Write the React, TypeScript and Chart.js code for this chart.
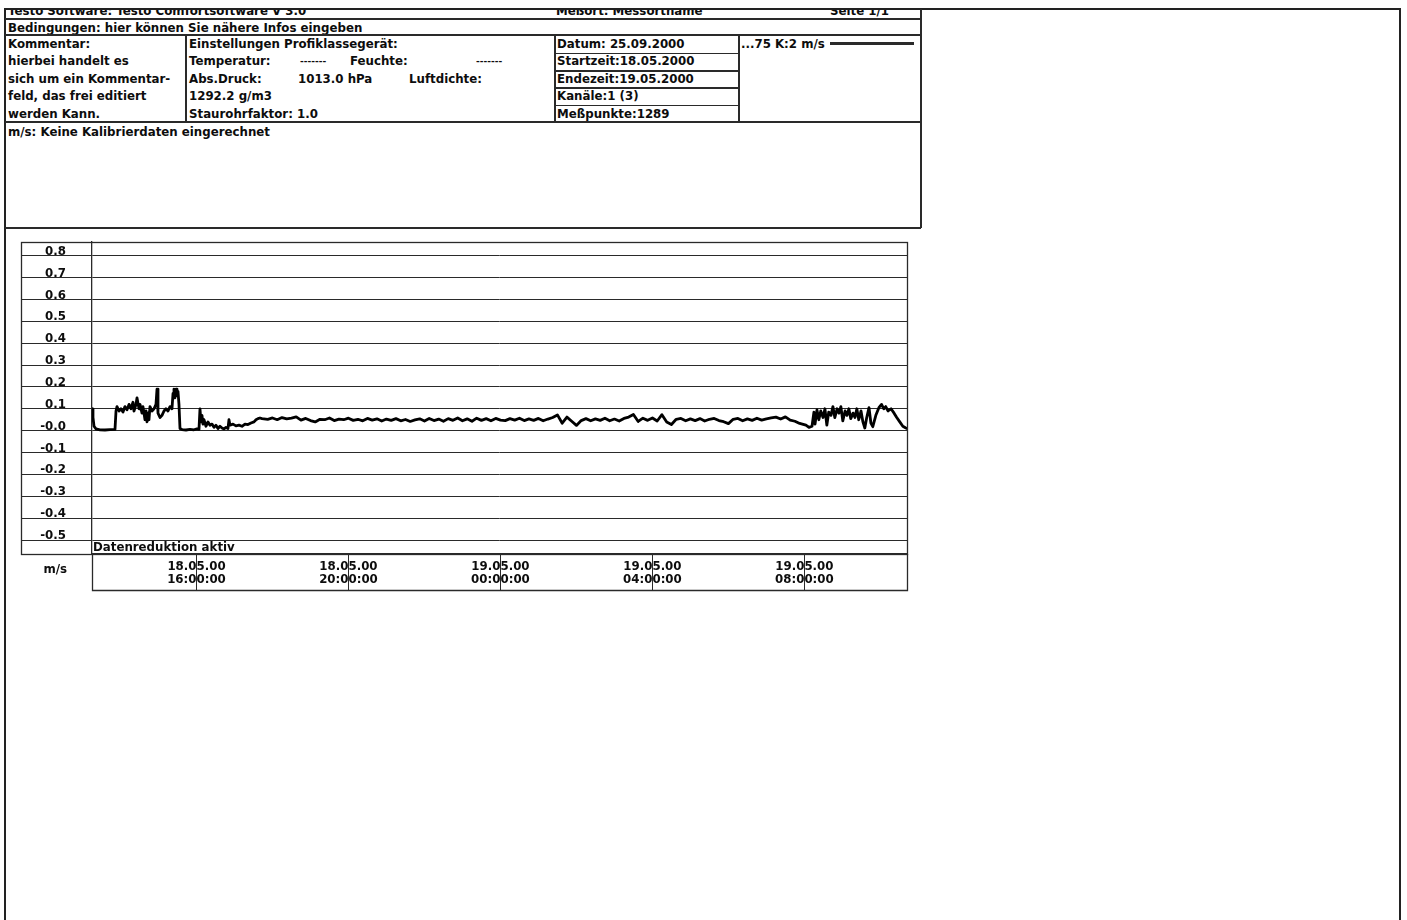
import React, { useEffect, useRef } from "react";
import { Chart, registerables } from "chart.js";

Chart.register(...registerables);

// Time in hours since 18.05.2000 00:00, velocity in m/s
const TIME_H = [
  // start / first plateau
  13.250, 13.276, 13.303, 13.355, 13.461, 13.592, 13.724, 13.855, 13.882, 13.908,
  13.961, 14.013, 14.066, 14.118, 14.171, 14.224, 14.276, 14.329, 14.355, 14.408,
  14.434, 14.487, 14.513, 14.566, 14.592, 14.645, 14.671, 14.697, 14.724, 14.750,
  14.776, 14.829, 14.882, 14.934, 14.961, 14.987, 15.039, 15.092, 15.145, 15.197,
  15.250, 15.303, 15.355, 15.382, 15.408, 15.434, 15.461, 15.487, 15.513, 15.539,
  15.566,
  // low phase
  15.618, 15.724, 15.829, 15.934, 16.013, 16.066, 16.092, 16.118, 16.145, 16.171,
  16.197, 16.250, 16.303, 16.355, 16.408, 16.461, 16.513, 16.566, 16.618, 16.671,
  16.724, 16.776, 16.829, 16.855, 16.882, 16.961, 17.039, 17.118, 17.197, 17.276,
  17.355, 17.434, 17.513, 17.566, 17.618, 17.671, 17.724,
  // steady phase
  17.875,
  18.000, 18.125, 18.250, 18.375, 18.500, 18.625, 18.750, 18.875,
  19.000, 19.125, 19.250, 19.375, 19.500, 19.625, 19.750, 19.875,
  20.000, 20.125, 20.250, 20.375, 20.500, 20.625, 20.750, 20.875,
  21.000, 21.125, 21.250, 21.375, 21.500, 21.625, 21.750, 21.875,
  22.000, 22.125, 22.250, 22.375, 22.500, 22.625, 22.750, 22.875,
  23.000, 23.125, 23.250, 23.375, 23.500, 23.625, 23.750, 23.875,
  24.000, 24.125, 24.250, 24.375, 24.500, 24.625, 24.750, 24.875,
  25.000, 25.125, 25.250, 25.375, 25.500, 25.625, 25.750, 25.875,
  26.000, 26.125, 26.250, 26.375, 26.500, 26.625, 26.750, 26.875,
  27.000, 27.125, 27.250, 27.375, 27.500, 27.625, 27.750, 27.875,
  28.000, 28.125, 28.250, 28.375, 28.500, 28.625, 28.750, 28.875,
  29.000, 29.125, 29.250, 29.375, 29.500, 29.625, 29.750, 29.875,
  30.000, 30.125, 30.250, 30.375, 30.500, 30.625, 30.750, 30.875,
  31.000, 31.125, 31.250, 31.375, 31.500, 31.625, 31.750, 31.875,
  // final fluctuating phase
  32.04, 32.12, 32.20, 32.25, 32.28, 32.33, 32.38, 32.43, 32.49, 32.54,
  32.59, 32.64, 32.70, 32.75, 32.80, 32.86, 32.91, 32.96, 33.01, 33.07,
  33.12, 33.17, 33.22, 33.28, 33.33, 33.38, 33.43, 33.49, 33.54, 33.59,
  33.64, 33.70, 33.75, 33.80, 33.88, 33.96, 34.03, 34.09, 34.14, 34.20,
  34.28, 34.36, 34.43, 34.51, 34.59, 34.67, 34.70,
];

const SPEED = [
  0.10, 0.06, 0.02, 0.008, 0.004, 0.003, 0.005, 0.006, 0.09, 0.11,
  0.09, 0.10, 0.085, 0.11, 0.095, 0.12, 0.10, 0.13, 0.09, 0.12,
  0.15, 0.10, 0.12, 0.08, 0.11, 0.05, 0.09, 0.04, 0.08, 0.05,
  0.11, 0.09, 0.10, 0.12, 0.19, 0.08, 0.06, 0.07, 0.09, 0.10,
  0.09, 0.11, 0.10, 0.17, 0.19, 0.15, 0.19, 0.16, 0.18, 0.12,
  0.01,
  0.005, 0.003, 0.006, 0.004, 0.008, 0.006, 0.10, 0.04, 0.07, 0.03,
  0.05, 0.02, 0.04, 0.025, 0.03, 0.015, 0.025, 0.01, 0.02, 0.012,
  0.008, 0.015, 0.01, 0.05, 0.025, 0.03, 0.022, 0.025, 0.02, 0.03,
  0.028, 0.035, 0.04, 0.05, 0.055, 0.058, 0.055,
  0.052,
  0.058, 0.050, 0.060, 0.054, 0.057, 0.063, 0.048, 0.056,
  0.046, 0.040, 0.052, 0.050, 0.058, 0.046, 0.053, 0.050,
  0.057, 0.047, 0.052, 0.045, 0.056, 0.048, 0.054, 0.044,
  0.053, 0.047, 0.055, 0.045, 0.051, 0.042, 0.049, 0.054,
  0.044, 0.056, 0.046, 0.053, 0.043, 0.055, 0.047, 0.058,
  0.045, 0.054, 0.043, 0.057, 0.047, 0.055, 0.045, 0.056,
  0.048, 0.046, 0.055, 0.048, 0.057, 0.046, 0.054, 0.047,
  0.056, 0.045, 0.053, 0.060, 0.072, 0.034, 0.062, 0.043,
  0.024, 0.046, 0.055, 0.045, 0.054, 0.047, 0.057, 0.045,
  0.053, 0.044, 0.056, 0.062, 0.074, 0.042, 0.057, 0.047,
  0.058, 0.044, 0.073, 0.040, 0.028, 0.052, 0.056, 0.045,
  0.054, 0.046, 0.055, 0.044, 0.052, 0.056, 0.046, 0.041,
  0.032, 0.052, 0.056, 0.045, 0.054, 0.047, 0.057, 0.048,
  0.054, 0.058, 0.062, 0.053, 0.063, 0.048, 0.043, 0.033,
  0.025, 0.015, 0.02, 0.085, 0.03, 0.095, 0.05, 0.09, 0.06, 0.10,
  0.025, 0.085, 0.07, 0.11, 0.06, 0.10, 0.08, 0.11, 0.045, 0.09,
  0.07, 0.10, 0.055, 0.08, 0.06, 0.10, 0.05, 0.09, 0.04, 0.012,
  0.06, 0.105, 0.035, 0.018, 0.07, 0.105, 0.12, 0.10, 0.11, 0.09,
  0.10, 0.08, 0.06, 0.04, 0.02, 0.012, 0.01,
];

const Y_TICKS = [-0.5, -0.4, -0.3, -0.2, -0.1, 0, 0.1, 0.2, 0.3, 0.4, 0.5, 0.6, 0.7, 0.8];
const Y_TICK_LABELS = ["-0.5", "-0.4", "-0.3", "-0.2", "-0.1", "-0.0", "0.1", "0.2", "0.3", "0.4", "0.5", "0.6", "0.7", "0.8"];
const X_TICKS = [16, 20, 24, 28, 32];
const X_TICK_LABELS = [
  ["18.05.00", "16:00:00"],
  ["18.05.00", "20:00:00"],
  ["19.05.00", "00:00:00"],
  ["19.05.00", "04:00:00"],
  ["19.05.00", "08:00:00"],
];
const X_MIN = 13.25;
const X_MAX = 34.7;
const Y_MIN = -0.564;
const Y_MAX = 0.8626;

const FONT = '"DejaVu Sans", sans-serif';
const FS = 11.8;
const INK = "#0d0d0d";
const LINE = "#2a2a2a";

const framePlugin = {
  id: "frame",
  afterDraw(chart: any) {
    const { ctx, chartArea: a } = chart;
    const ys = chart.scales.y;
    const xs = chart.scales.x;
    ctx.save();
    ctx.strokeStyle = LINE;
    ctx.lineWidth = 1.3;
    ctx.strokeRect(ys.left + 0.5, a.top + 0.5, a.right - ys.left, a.bottom - a.top);
    ctx.beginPath();
    ctx.moveTo(a.left + 0.5, a.bottom);
    ctx.lineTo(a.left + 0.5, xs.bottom + 0.5);
    ctx.lineTo(a.right + 0.5, xs.bottom + 0.5);
    ctx.lineTo(a.right + 0.5, a.bottom);
    ctx.stroke();
    ctx.fillStyle = INK;
    ctx.font = `bold ${FS}px ${FONT}`;
    ctx.textBaseline = "alphabetic";
    ctx.textAlign = "left";
    ctx.fillText("Datenreduktion aktiv", a.left + 1, a.bottom - 3.5);
    ctx.textAlign = "right";
    ctx.fillText("m/s", ys.right - 25, a.bottom + 19);
    ctx.restore();
  },
};

function ChartBox() {
  const ref = useRef<HTMLCanvasElement | null>(null);
  useEffect(() => {
    if (!ref.current) return;
    const points = TIME_H.map((t, i) => ({ x: t, y: SPEED[i] }));
    const tickFont = { family: FONT, size: FS, weight: "bold" as const, lineHeight: 1.12 };
    const chart = new Chart(ref.current, {
      type: "line",
      data: {
        datasets: [
          {
            label: "m/s",
            data: points,
            borderColor: "#000",
            borderWidth: 2.8,
            borderJoinStyle: "round",
            borderCapStyle: "round",
            pointRadius: 0,
            tension: 0,
            fill: false,
          },
        ],
      },
      options: {
        animation: false,
        responsive: false,
        maintainAspectRatio: false,
        layout: { padding: { left: 21, top: 12, right: 23, bottom: 10 } },
        plugins: { legend: { display: false }, tooltip: { enabled: false }, title: { display: false } },
        scales: {
          x: {
            type: "linear",
            min: X_MIN,
            max: X_MAX,
            afterBuildTicks: (s: any) => {
              s.ticks = X_TICKS.map((v) => ({ value: v }));
            },
            afterFit: (s: any) => {
              s.height = 36;
            },
            grid: { display: true, drawOnChartArea: false, drawTicks: true, tickLength: 36, color: LINE, lineWidth: 1 },
            border: { display: true, color: LINE, width: 1.3 },
            ticks: {
              autoSkip: false,
              maxRotation: 0,
              minRotation: 0,
              padding: -30,
              color: INK,
              font: tickFont,
              callback: (_v: any, i: number) => X_TICK_LABELS[i],
            },
          },
          y: {
            type: "linear",
            min: Y_MIN,
            max: Y_MAX,
            afterBuildTicks: (s: any) => {
              s.ticks = Y_TICKS.map((v) => ({ value: v }));
            },
            afterFit: (s: any) => {
              s.width = 71;
            },
            grid: { display: true, drawOnChartArea: true, drawTicks: true, tickLength: 71, color: LINE, lineWidth: 1 },
            border: { display: true, color: LINE, width: 1.3 },
            ticks: {
              autoSkip: false,
              padding: -45,
              labelOffset: -4,
              color: INK,
              font: tickFont,
              callback: (_v: any, i: number) => Y_TICK_LABELS[i],
            },
          },
        },
      },
      plugins: [framePlugin],
    });
    return () => chart.destroy();
  }, []);
  return (
    <canvas
      ref={ref}
      width={930}
      height={370}
      style={{ position: "absolute", left: 0, top: 230, width: 930, height: 370 }}
    />
  );
}

const textStyle: React.CSSProperties = {
  position: "absolute",
  fontFamily: FONT,
  fontWeight: "bold",
  fontSize: FS,
  lineHeight: `${FS}px`,
  whiteSpace: "nowrap",
  color: INK,
};

function T({ x, y, size, children }: { x: number; y: number; size?: number; children: React.ReactNode }) {
  return <div style={{ ...textStyle, left: x, top: y, fontSize: size ?? FS }}>{children}</div>;
}

function HL({ x1, x2, y, w = 1.4 }: { x1: number; x2: number; y: number; w?: number }) {
  return <div style={{ position: "absolute", left: x1, top: y - w / 2, width: x2 - x1, height: w, background: LINE }} />;
}

function VL({ x, y1, y2, w = 1.4 }: { x: number; y1: number; y2: number; w?: number }) {
  return <div style={{ position: "absolute", left: x - w / 2, top: y1, width: w, height: y2 - y1, background: LINE }} />;
}

const ROWS = [38.5, 56, 73.5, 91, 108.5];

export default function App() {
  return (
    <div style={{ position: "absolute", left: 0, top: 0, width: 1407, height: 920, overflow: "hidden", background: "#fff" }}>
      {/* page frame */}
      <div style={{ position: "absolute", left: 4, top: 8, width: 1393, height: 940, border: "2px solid #222" }} />

      {/* first row, cut at the top */}
      <div style={{ position: "absolute", left: 6, top: 10, width: 914, height: 8, overflow: "hidden" }}>
        <T x={2} y={-4.5}>Testo Software: Testo Comfortsoftware V 3.0</T>
        <T x={550} y={-4.5}>Meßort: Messortname</T>
        <T x={824} y={-4.5}>Seite 1/1</T>
      </div>
      <HL x1={5} x2={921} y={19} />
      <T x={8} y={23}>Bedingungen: hier können Sie nähere Infos eingeben</T>
      <HL x1={5} x2={921} y={35} />

      {/* comment column */}
      <T x={8} y={ROWS[0]}>Kommentar:</T>
      <T x={8} y={ROWS[1]}>hierbei handelt es</T>
      <T x={8} y={ROWS[2]}>sich um ein Kommentar-</T>
      <T x={8} y={ROWS[3]}>feld, das frei editiert</T>
      <T x={8} y={ROWS[4]}>werden Kann.</T>
      <VL x={186} y1={35} y2={122} />

      {/* settings column */}
      <T x={189} y={ROWS[0]}>Einstellungen Profiklassegerät:</T>
      <T x={189} y={ROWS[1]}>Temperatur:</T>
      <T x={300} y={ROWS[1]} size={9}>-------</T>
      <T x={350} y={ROWS[1]}>Feuchte:</T>
      <T x={476} y={ROWS[1]} size={9}>-------</T>
      <T x={189} y={ROWS[2]}>Abs.Druck:</T>
      <T x={298} y={ROWS[2]}>1013.0 hPa</T>
      <T x={409} y={ROWS[2]}>Luftdichte:</T>
      <T x={189} y={ROWS[3]}>1292.2 g/m3</T>
      <T x={189} y={ROWS[4]}>Staurohrfaktor: 1.0</T>

      {/* date column */}
      <VL x={555} y1={35} y2={122} />
      <VL x={739} y1={35} y2={122} />
      <HL x1={555} x2={739} y={53.3} />
      <HL x1={555} x2={739} y={71} />
      <HL x1={555} x2={739} y={88} />
      <HL x1={555} x2={739} y={105.7} />
      <T x={557} y={ROWS[0]}>Datum: 25.09.2000</T>
      <T x={557} y={ROWS[1]}>Startzeit:18.05.2000</T>
      <T x={557} y={ROWS[2]}>Endezeit:19.05.2000</T>
      <T x={557} y={ROWS[3]}>Kanäle:1 (3)</T>
      <T x={557} y={ROWS[4]}>Meßpunkte:1289</T>

      {/* legend column */}
      <T x={741} y={ROWS[0]}>...75 K:2 m/s</T>
      <HL x1={830} x2={914} y={43.5} w={2.6} />

      <HL x1={5} x2={921} y={122} />
      <T x={8} y={127}>m/s: Keine Kalibrierdaten eingerechnet</T>
      <HL x1={5} x2={921} y={228} />
      <VL x={921} y1={9} y2={228} />

      <ChartBox />
    </div>
  );
}
